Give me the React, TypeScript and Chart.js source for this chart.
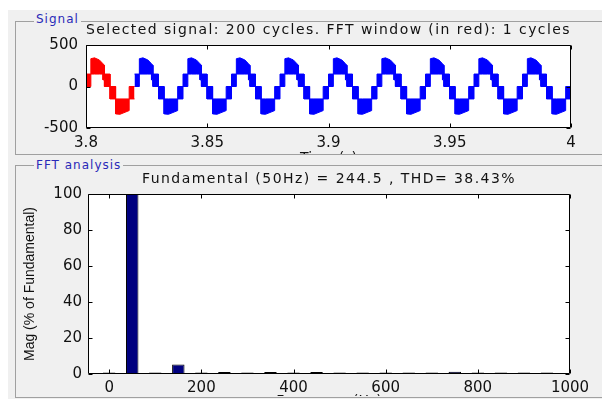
import React, { useEffect, useRef } from 'react';
import { Chart, registerables } from 'chart.js';

Chart.register(...registerables);

// ---- Signal panel data (one 50 Hz cycle; band = PWM envelope) ----
const signalTitle = 'Selected signal: 200 cycles. FFT window (in red): 1 cycles';
const signalXTitle = 'Time (s)';
const cycleTimeMs = [0, 2.0, 2.0, 3.5, 5.5, 7.0, 7.0, 7.6, 7.6, 9.9, 9.9, 12.2, 12.2, 14.0, 17.8, 17.8, 20.0];
const cycleUpper = [150, 150, 335, 345, 320, 275, 275, 255, 150, 150, 0, 0, -150, -150, -150, 0, 0];
const cycleLower = [0, 0, 150, 150, 150, 150, 80, 80, 0, 0, -150, -150, -330, -335, -290, -150, -150];
const signalStart = 3.8;
const cyclePeriodS = 0.02;
const shownCycles = 10;
const fftWindowCycles = 1;
const signalXTicks = [3.8, 3.85, 3.9, 3.95, 4];
const signalXTickLabels = ['3.8', '3.85', '3.9', '3.95', '4'];
const signalYTicks = [-500, 0, 500];
const signalYTickLabels = ['-500', '0', '500'];

// ---- FFT panel data ----
const fftTitle = 'Fundamental (50Hz) = 244.5 , THD= 38.43%';
const fftXTitle = 'Frequency (Hz)';
const fftYTitle = 'Mag (% of Fundamental)';
const fftFreqHz = [0, 50, 100, 150, 200, 250, 300, 350, 400, 450, 500, 550, 600, 650, 700, 750, 800, 850, 900, 950];
const fftMagPct = [0.4, 100, 0.3, 5.3, 0.4, 1.1, 0.3, 1.1, 0.4, 1.1, 0.4, 0.5, 0.4, 0.5, 0.5, 1.3, 0.4, 0.5, 0.5, 0.5];
const fftXTicks = [0, 200, 400, 600, 800, 1000];
const fftXTickLabels = ['0', '200', '400', '600', '800', '1000'];
const fftYTicks = [0, 20, 40, 60, 80, 100];
const fftYTickLabels = ['0', '20', '40', '60', '80', '100'];

const H_FONT = 'DejaVu Sans';
const V_FONT = 'Liberation Sans';
const TEXT = '#111';

function band(fromCycle: number, toCycle: number, which: number[]) {
  const pts: { x: number; y: number }[] = [];
  for (let c = fromCycle; c < toCycle; c++) {
    cycleTimeMs.forEach((ms, i) => {
      pts.push({ x: signalStart + c * cyclePeriodS + ms / 1000, y: which[i] });
    });
  }
  return pts;
}

const frame = {
  id: 'matlabFrame',
  beforeDraw(chart: any) {
    const { ctx, chartArea: a } = chart;
    ctx.save();
    ctx.fillStyle = '#fff';
    ctx.fillRect(a.left, a.top, a.right - a.left, a.bottom - a.top);
    ctx.restore();
    // wide (stretched) look of the chart titles (drawn before the datasets)
    ctx.letterSpacing = '1.45px';
  },
  beforeDatasetsDraw(chart: any) {
    chart.ctx.letterSpacing = '0px';
  },
  afterDraw(chart: any) {
    const { ctx, chartArea: a } = chart;
    const xs = chart.scales.x;
    const ys = chart.scales.y;
    const L = Math.round(a.left) + 0.5;
    const R = Math.round(a.right) - 0.5;
    const T = Math.round(a.top) + 0.5;
    const B = Math.round(a.bottom) - 0.5;
    const len = 4;
    ctx.save();
    ctx.strokeStyle = '#000';
    ctx.lineWidth = 1;
    ctx.beginPath();
    ctx.rect(L, T, R - L, B - T);
    xs.ticks.forEach((t: any) => {
      const px = Math.round(xs.getPixelForValue(t.value)) + 0.5;
      ctx.moveTo(px, B);
      ctx.lineTo(px, B - len);
      ctx.moveTo(px, T);
      ctx.lineTo(px, T + len);
    });
    ys.ticks.forEach((t: any) => {
      const py = Math.round(ys.getPixelForValue(t.value)) + 0.5;
      ctx.moveTo(L, py);
      ctx.lineTo(L + len, py);
      ctx.moveTo(R, py);
      ctx.lineTo(R - len, py);
    });
    ctx.stroke();
    ctx.restore();
  },
};

const tickFont = { family: H_FONT, size: 15 };

export default function App() {
  const sigRef = useRef<HTMLCanvasElement>(null);
  const fftRef = useRef<HTMLCanvasElement>(null);

  useEffect(() => {
    const sig = new Chart(sigRef.current!, {
      type: 'line',
      data: {
        datasets: [
          { data: band(0, fftWindowCycles, cycleLower), borderColor: '#ff0000', backgroundColor: '#ff0000', borderWidth: 1, pointRadius: 0, fill: false },
          { data: band(0, fftWindowCycles, cycleUpper), borderColor: '#ff0000', backgroundColor: '#ff0000', borderWidth: 1, pointRadius: 0, fill: '-1' },
          { data: band(fftWindowCycles, shownCycles, cycleLower), borderColor: '#0000ff', backgroundColor: '#0000ff', borderWidth: 1, pointRadius: 0, fill: false },
          { data: band(fftWindowCycles, shownCycles, cycleUpper), borderColor: '#0000ff', backgroundColor: '#0000ff', borderWidth: 1, pointRadius: 0, fill: '-1' },
        ],
      },
      options: {
        animation: false,
        responsive: false,
        events: [],
        layout: { padding: { left: 0, right: 29, top: 0, bottom: 0 } },
        plugins: {
          legend: { display: false },
          tooltip: { enabled: false },
          title: {
            display: true,
            fullSize: false,
            text: signalTitle,
            color: TEXT,
            font: { family: H_FONT, size: 14, weight: 'normal' },
            padding: { top: 0, bottom: 6.2 },
          },
        },
        scales: {
          x: {
            type: 'linear',
            min: 3.8,
            max: 4,
            grid: { display: false, drawTicks: false, z: 1 },
            border: { display: false },
            afterBuildTicks: (s: any) => { s.ticks = signalXTicks.map((v) => ({ value: v })); },
            afterFit: (s: any) => { s.height = 44; },
            ticks: {
              z: 1,
              autoSkip: false,
              maxRotation: 0,
              padding: 6,
              color: TEXT,
              font: tickFont,
              callback: (_v: any, i: number) => signalXTickLabels[i],
            },
            title: { display: true, text: signalXTitle, color: TEXT, font: { family: H_FONT, size: 14 }, padding: { top: 0, bottom: 5.4 } },
          },
          y: {
            min: -500,
            max: 500,
            grid: { display: false, drawTicks: false, z: 1 },
            border: { display: false },
            afterBuildTicks: (s: any) => { s.ticks = signalYTicks.map((v) => ({ value: v })); },
            afterFit: (s: any) => { s.width = 70; },
            ticks: {
              z: 1,
              padding: 8,
              color: TEXT,
              font: tickFont,
              callback: (_v: any, i: number) => signalYTickLabels[i],
            },
          },
        },
      },
      plugins: [frame],
    } as any);

    const fft = new Chart(fftRef.current!, {
      type: 'bar',
      data: {
        datasets: [
          {
            data: fftFreqHz.map((f, i) => ({ x: f, y: fftMagPct[i] })),
            backgroundColor: '#00007f',
            borderColor: '#000',
            borderWidth: 1,
            borderSkipped: false,
            minBarLength: 1.5,
            barPercentage: 0.54,
            categoryPercentage: 1,
          },
        ],
      },
      options: {
        animation: false,
        responsive: false,
        events: [],
        layout: { padding: { left: 0, right: 30, top: 0, bottom: 0 } },
        plugins: {
          legend: { display: false },
          tooltip: { enabled: false },
          title: {
            display: true,
            fullSize: false,
            text: fftTitle,
            color: TEXT,
            font: { family: H_FONT, size: 14, weight: 'normal' },
            padding: { top: 4.6, bottom: 6.6 },
          },
        },
        scales: {
          x: {
            type: 'linear',
            offset: false,
            min: -46,
            max: 1000,
            grid: { display: false, drawTicks: false, z: 1 },
            border: { display: false },
            afterBuildTicks: (s: any) => { s.ticks = fftXTicks.map((v) => ({ value: v })); },
            afterFit: (s: any) => { s.height = 42; },
            ticks: {
              z: 1,
              autoSkip: false,
              maxRotation: 0,
              padding: 5,
              color: TEXT,
              font: tickFont,
              callback: (_v: any, i: number) => fftXTickLabels[i],
            },
            title: { display: true, text: fftXTitle, color: TEXT, font: { family: H_FONT, size: 14 }, padding: { top: 0, bottom: 6.5 } },
          },
          y: {
            min: 0,
            max: 100,
            grid: { display: false, drawTicks: false, z: 1 },
            border: { display: false },
            afterBuildTicks: (s: any) => { s.ticks = fftYTicks.map((v) => ({ value: v })); },
            afterFit: (s: any) => { s.width = 72; },
            ticks: {
              z: 1,
              padding: 6,
              color: TEXT,
              font: tickFont,
              callback: (_v: any, i: number) => fftYTickLabels[i],
            },
            title: { display: true, text: fftYTitle, color: TEXT, font: { family: V_FONT, size: 14 }, padding: { top: 5.6, bottom: 0 } },
          },
        },
      },
      plugins: [frame],
    } as any);

    return () => {
      sig.destroy();
      fft.destroy();
    };
  }, []);

  const panelLabel: React.CSSProperties = {
    position: 'absolute',
    fontFamily: H_FONT,
    fontSize: 12,
    lineHeight: '14px',
    letterSpacing: '1px',
    color: '#2a2ab8',
    background: '#f0f0f0',
    padding: '0 2px',
    whiteSpace: 'nowrap',
  };

  return (
    <div style={{ position: 'fixed', left: 0, top: 0, width: 602, height: 399, background: '#fff', overflow: 'hidden' }}>
      <div style={{ position: 'absolute', left: 8, top: 10, right: 0, bottom: 0, background: '#f0f0f0' }} />
      {/* Signal panel */}
      <div style={{ position: 'absolute', left: 15, top: 21, width: 600, height: 134, border: '1px solid #a0a0a0', boxSizing: 'border-box' }} />
      <div style={{ position: 'absolute', left: 16, top: 22, width: 584, height: 132, overflow: 'hidden' }}>
        <canvas ref={sigRef} width={584} height={150} style={{ display: 'block' }} />
      </div>
      <span style={{ ...panelLabel, left: 34, top: 12 }}>Signal</span>
      {/* FFT panel */}
      <div style={{ position: 'absolute', left: 15, top: 165, width: 600, height: 233, border: '1px solid #a0a0a0', boxSizing: 'border-box' }} />
      <div style={{ position: 'absolute', left: 16, top: 166, width: 584, height: 230, overflow: 'hidden' }}>
        <canvas ref={fftRef} width={584} height={250} style={{ display: 'block' }} />
      </div>
      <span style={{ ...panelLabel, left: 34, top: 158 }}>FFT analysis</span>
    </div>
  );
}
